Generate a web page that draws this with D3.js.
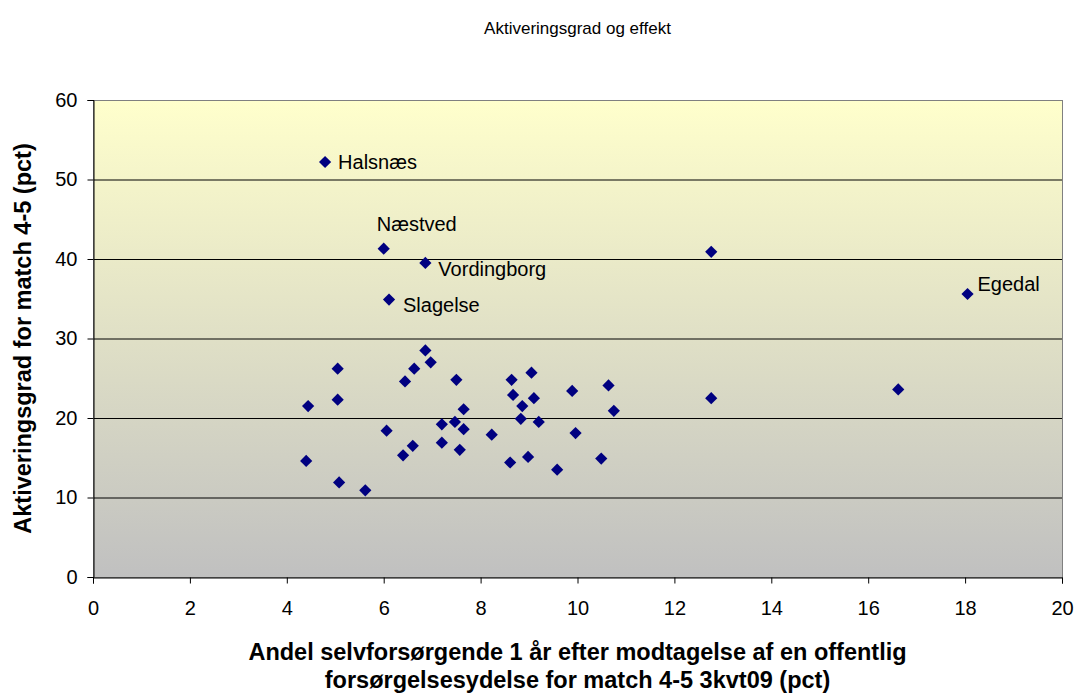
<!doctype html>
<html>
<head>
<meta charset="utf-8"/>
<title>Aktiveringsgrad og effekt</title>
<script src="https://d3js.org/d3.v7.min.js"></script>
<style>
 body { margin:0; background:#fff; }
 text { font-family: "Liberation Sans", Arial, sans-serif; }
</style>
</head>
<body>
<script type="text/javascript">
// andel selvforsørgende (x) og aktiveringsgrad (y)
var andel = [4.44, 5.05, 5.05, 4.40, 5.08, 5.62, 6.06, 6.44, 6.63, 6.86, 6.97, 6.40, 6.60, 7.20, 7.47,
             7.65, 7.65, 7.20, 7.57, 7.50, 8.23, 8.61, 8.64, 8.67, 9.05, 9.10, 8.86, 8.83, 9.20, 8.98,
             9.58, 9.89, 9.96, 10.49, 10.64, 10.75, 12.76, 12.76, 16.62, 18.05, 4.79, 6.00, 6.86, 6.11];
var aktivering = [21.5, 26.2, 22.3, 14.6, 11.9, 10.9, 18.4, 24.6, 26.2, 28.5, 27.0, 15.3, 16.5, 19.2, 19.5,
                  18.6, 21.1, 16.9, 16.0, 24.8, 17.9, 14.4, 24.8, 22.9, 25.7, 22.5, 21.5, 19.9, 19.5, 15.1,
                  13.5, 23.4, 18.1, 14.9, 24.1, 20.9, 22.5, 40.9, 23.6, 35.6, 52.2, 41.3, 39.5, 34.9];
var kommune = ["", "", "", "", "", "", "", "", "", "", "", "", "", "", "",
               "", "", "", "", "", "", "", "", "", "", "", "", "", "", "",
               "", "", "", "", "", "", "", "", "", "Egedal", "Halsnæs", "Næstved", "Vordingborg", "Slagelse"];
var xTicks = [0, 2, 4, 6, 8, 10, 12, 14, 16, 18, 20];
var yTicks = [0, 10, 20, 30, 40, 50, 60];

var W = 1079, H = 695;
var m = {left: 93, right: 17, top: 100, bottom: 118};

var svg = d3.select("body").append("svg")
    .attr("width", W).attr("height", H);

var x = d3.scaleLinear().domain([0, 20]).range([m.left, W - m.right]);
var y = d3.scaleLinear().domain([0, 60]).range([H - m.bottom, m.top]);

// baggrund med gradient
var grad = svg.append("defs").append("linearGradient")
    .attr("id", "bg").attr("x1", 0).attr("y1", 0).attr("x2", 0).attr("y2", 1);
grad.append("stop").attr("offset", "0%").attr("stop-color", "#ffffcc");
grad.append("stop").attr("offset", "100%").attr("stop-color", "#c0c0c0");

svg.append("rect")
    .attr("x", x(0)).attr("y", y(60))
    .attr("width", x(20) - x(0)).attr("height", y(0) - y(60))
    .attr("fill", "url(#bg)");

// gitterlinjer
svg.append("g").selectAll("line").data(yTicks.filter(function(d){ return d > 0; }))
  .enter().append("line")
    .attr("x1", x(0)).attr("x2", x(20))
    .attr("y1", function(d){ return y(d) + 0.5; })
    .attr("y2", function(d){ return y(d) + 0.5; })
    .attr("stroke", "#000").attr("stroke-width", 1);

svg.append("rect")
    .attr("x", x(0) + 0.5).attr("y", y(60) + 0.5)
    .attr("width", x(20) - x(0)).attr("height", y(0) - y(60))
    .attr("fill", "none").attr("stroke", "#808080");

// akser
var xAxis = svg.append("g")
    .attr("transform", "translate(0," + (y(0) + 0.5) + ")")
    .call(d3.axisBottom(x).tickValues(xTicks).tickSize(6).tickPadding(17));
var yAxis = svg.append("g")
    .attr("transform", "translate(" + (x(0) + 0.5) + ",0)")
    .call(d3.axisLeft(y).tickValues(yTicks).tickSize(6).tickPadding(10));

[xAxis, yAxis].forEach(function(a){
  a.attr("font-size", 20).attr("font-family", "'Liberation Sans', Arial, sans-serif");
  a.selectAll("path").attr("stroke", "#000");
  a.selectAll("line").attr("stroke", "#000");
  a.selectAll("text").attr("fill", "#000");
});

// punkter
var diamond = d3.symbol().type(d3.symbolDiamond2).size(95);
svg.append("g").selectAll("path").data(andel)
  .enter().append("path")
    .attr("d", diamond)
    .attr("transform", function(d, i){ return "translate(" + x(d) + "," + y(aktivering[i]) + ")"; })
    .attr("fill", "#000080");

// navne
var offs = {"Halsnæs": [13, 7], "Næstved": [-7, -18], "Vordingborg": [13, 13], "Slagelse": [14, 12], "Egedal": [10, -3]};
svg.append("g").selectAll("text").data(kommune.map(function(k, i){ return i; }).filter(function(i){ return kommune[i] !== ""; }))
  .enter().append("text")
    .attr("x", function(i){ return x(andel[i]) + offs[kommune[i]][0]; })
    .attr("y", function(i){ return y(aktivering[i]) + offs[kommune[i]][1]; })
    .attr("font-size", 20)
    .text(function(i){ return kommune[i]; });

// titler
var cx = (x(0) + x(20)) / 2;
svg.append("text")
    .attr("x", cx).attr("y", 34).attr("text-anchor", "middle")
    .attr("font-size", 17).text("Aktiveringsgrad og effekt");

svg.append("text")
    .attr("x", cx).attr("y", 660).attr("text-anchor", "middle")
    .attr("font-size", 23.5).attr("font-weight", "bold")
    .text("Andel selvforsørgende 1 år efter modtagelse af en offentlig");
svg.append("text")
    .attr("x", cx).attr("y", 688).attr("text-anchor", "middle")
    .attr("font-size", 23.5).attr("font-weight", "bold")
    .text("forsørgelsesydelse for match 4-5 3kvt09 (pct)");

svg.append("text")
    .attr("transform", "translate(31," + ((y(0) + y(60)) / 2) + ") rotate(-90)")
    .attr("text-anchor", "middle")
    .attr("font-size", 23.5).attr("font-weight", "bold")
    .text("Aktiveringsgrad for match 4-5 (pct)");
</script>
</body>
</html>
